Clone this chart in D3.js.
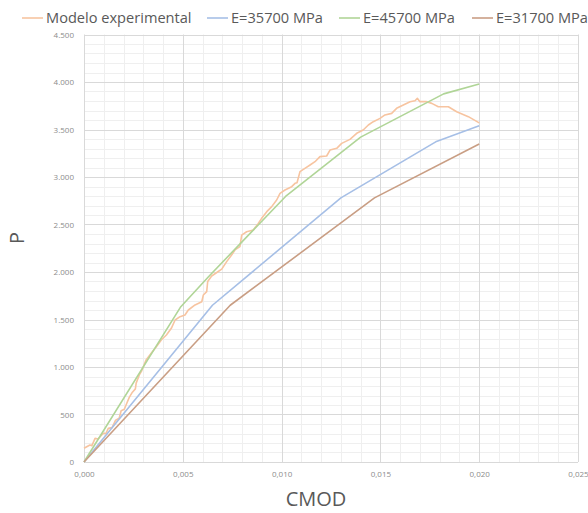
<!DOCTYPE html>
<html>
<head>
<meta charset="utf-8">
<script src="https://cdn.jsdelivr.net/npm/d3@7"></script>
<style>
  html, body { margin: 0; padding: 0; background: #fff; }
  svg { display: block; font-family: "Open Sans", "Noto Sans", sans-serif; }
</style>
</head>
<body>
<svg id="chart" width="588" height="513"></svg>
<script>
// CMOD (mm) vs. load P — experimental curve and three numerical models
const seriesNames = ["Modelo experimental", "E=35700 MPa", "E=45700 MPa", "E=31700 MPa"];
const seriesColors = ["#f7c4a0", "#a6bfe6", "#b0d597", "#c99e84"];

const expCmod = [0.0000, 0.00030, 0.00040, 0.00056, 0.00071, 0.00098, 0.00111, 0.00123, 0.00142, 0.00160,
  0.00178, 0.00188, 0.00204, 0.00215, 0.00229, 0.00245, 0.00260, 0.00264, 0.00280, 0.00292,
  0.00314, 0.00340, 0.00366, 0.00391, 0.00417, 0.00442, 0.00461, 0.00486, 0.00511, 0.00528,
  0.00562, 0.00596, 0.00604, 0.00621, 0.00626, 0.00646, 0.00672, 0.00697, 0.00722, 0.00747,
  0.00764, 0.00789, 0.00798, 0.00823, 0.00857, 0.00882, 0.00899, 0.00925, 0.00950, 0.00975,
  0.00992, 0.01017, 0.01051, 0.01068, 0.01078, 0.01093, 0.01118, 0.01144, 0.01169, 0.01194,
  0.01228, 0.01245, 0.01279, 0.01304, 0.01346, 0.01380, 0.01413, 0.01439, 0.01464, 0.01498,
  0.01523, 0.01557, 0.01582, 0.01616, 0.01650, 0.01675, 0.01687, 0.01700, 0.01734, 0.01760,
  0.01793, 0.01844, 0.01886, 0.01945, 0.02000];
const expLoad = [144, 179, 172, 249, 242, 302, 300, 354, 362, 440,
  460, 540, 555, 610, 680, 735, 770, 830, 916, 960,
  1074, 1144, 1214, 1284, 1337, 1407, 1495, 1530, 1547, 1600,
  1653, 1687, 1758, 1793, 1900, 1958, 1995, 2030, 2109, 2179,
  2232, 2267, 2389, 2424, 2442, 2512, 2565, 2635, 2688, 2758,
  2828, 2863, 2898, 2933, 2940, 3056, 3091, 3126, 3161, 3214,
  3221, 3284, 3302, 3354, 3396, 3460, 3495, 3547, 3582, 3617,
  3653, 3670, 3723, 3758, 3793, 3803, 3828, 3793, 3793, 3775,
  3740, 3740, 3687, 3635, 3570];

const e35700Cmod = [0, 0.0065, 0.0130, 0.0178, 0.0200];
const e35700Load = [0, 1650, 2780, 3370, 3540];

const e45700Cmod = [0, 0.0049, 0.0063, 0.0102, 0.0140, 0.0182, 0.0200];
const e45700Load = [0, 1635, 1950, 2795, 3420, 3875, 3980];

const e31700Cmod = [0, 0.0074, 0.0147, 0.0200];
const e31700Load = [0, 1650, 2780, 3348];

const xTicks = [0, 0.005, 0.010, 0.015, 0.020, 0.025];
const yTicks = [0, 500, 1000, 1500, 2000, 2500, 3000, 3500, 4000, 4500];

const zip = (xs, ys) => xs.map((x, i) => [x, ys[i]]);
const series = [
  zip(expCmod, expLoad),
  zip(e35700Cmod, e35700Load),
  zip(e45700Cmod, e45700Load),
  zip(e31700Cmod, e31700Load)
];

const svg = d3.select("#chart");
const plot = { left: 84, right: 578, top: 34.5, bottom: 462 };

const x = d3.scaleLinear().domain([0, 0.025]).range([plot.left, plot.right]);
const y = d3.scaleLinear().domain([0, 4500]).range([plot.bottom, plot.top]);

// minor grid
const g = svg.append("g");
g.selectAll("line.minor-x")
  .data(d3.range(0, 26).map(i => i * 0.001).filter((v, i) => i % 5 !== 0))
  .join("line")
  .attr("x1", d => Math.round(x(d)) + 0.5).attr("x2", d => Math.round(x(d)) + 0.5)
  .attr("y1", plot.top).attr("y2", plot.bottom)
  .attr("stroke", "#efefef").attr("stroke-width", 1);
g.selectAll("line.minor-y")
  .data(d3.range(0, 46).map(i => i * 100).filter(v => v % 500 !== 0))
  .join("line")
  .attr("y1", d => Math.round(y(d)) + 0.5).attr("y2", d => Math.round(y(d)) + 0.5)
  .attr("x1", plot.left).attr("x2", plot.right)
  .attr("stroke", "#efefef").attr("stroke-width", 1);

// major grid
g.selectAll("line.major-x").data(xTicks).join("line")
  .attr("x1", d => Math.round(x(d)) + 0.5).attr("x2", d => Math.round(x(d)) + 0.5)
  .attr("y1", plot.top).attr("y2", plot.bottom)
  .attr("stroke", "#d9d9d9").attr("stroke-width", 1);
g.selectAll("line.major-y").data(yTicks).join("line")
  .attr("y1", d => Math.round(y(d)) + 0.5).attr("y2", d => Math.round(y(d)) + 0.5)
  .attr("x1", plot.left).attr("x2", plot.right)
  .attr("stroke", "#d9d9d9").attr("stroke-width", 1);

// tick labels
const fmtY = d => d === 0 ? "0" : d3.format(",")(d).replace(",", ".");
const fmtX = d => d3.format(".3f")(d).replace(".", ",");

const xAxis = d3.axisBottom(x).tickValues(xTicks).tickFormat(fmtX).tickSize(0).tickPadding(9);
const yAxis = d3.axisLeft(y).tickValues(yTicks).tickFormat(fmtY).tickSize(0).tickPadding(10);

const gx = svg.append("g").attr("transform", `translate(0,${plot.bottom})`).call(xAxis);
const gy = svg.append("g").attr("transform", `translate(${plot.left},0)`).call(yAxis);
[gx, gy].forEach(a => {
  a.select(".domain").remove();
  a.selectAll("text").attr("fill", "#8c8c8c").style("font-size", "8px")
    .style("font-family", "'Open Sans', sans-serif");
});

// series lines
const line = d3.line().x(d => x(d[0])).y(d => y(d[1]));
svg.append("g").selectAll("path").data(series).join("path")
  .attr("d", line)
  .attr("fill", "none")
  .attr("stroke", (d, i) => seriesColors[i])
  .attr("stroke-width", 1.6)
  .attr("stroke-linejoin", "round");

// axis titles
svg.append("text").attr("x", 316).attr("y", 506).attr("text-anchor", "middle")
  .attr("fill", "#595959").style("font-size", "20px").text("CMOD");
svg.append("text").attr("transform", "translate(24,238) rotate(-90)").attr("text-anchor", "middle")
  .attr("fill", "#595959").style("font-size", "20px").text("P");

// legend
const legendX = [22, 207, 339, 472];
const leg = svg.append("g").selectAll("g").data(seriesNames).join("g")
  .attr("transform", (d, i) => `translate(${legendX[i]},18)`);
leg.append("line").attr("x1", 0).attr("x2", 21).attr("y1", 0).attr("y2", 0)
  .attr("stroke", (d, i) => seriesColors[i]).attr("stroke-width", 1.6);
leg.append("text").attr("x", 24).attr("y", 5).attr("fill", "#595959")
  .style("font-size", "14.6px").text(d => d);
</script>
</body>
</html>
